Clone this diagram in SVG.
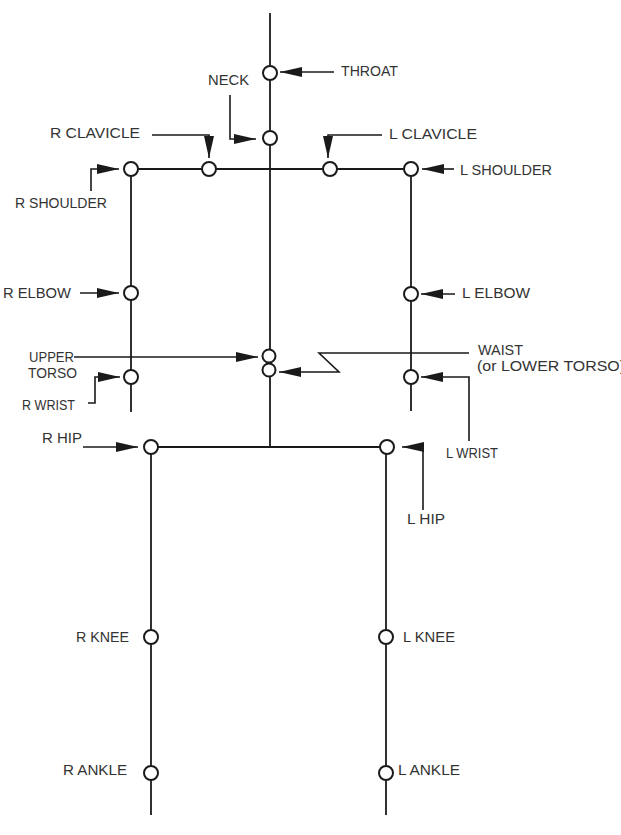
<svg xmlns="http://www.w3.org/2000/svg" width="621" height="835" viewBox="0 0 621 835">
<style>
.ln{fill:none;stroke:#1a1a1a;stroke-width:1.8}
.ar{fill:none;stroke:#1a1a1a;stroke-width:1.6;marker-end:url(#ah)}
.jt{fill:#fff;stroke:#1a1a1a;stroke-width:2}
text{font-family:"Liberation Sans",Arial,sans-serif;font-size:14px;fill:#333}
</style>
<defs>
<marker id="ah" markerUnits="userSpaceOnUse" markerWidth="22" markerHeight="10" refX="22" refY="5" orient="auto">
<path d="M0,0 L22,5 L0,10 Z" fill="#1a1a1a"/>
</marker>
</defs>
<rect width="621" height="835" fill="#fff"/>
<g id="connectors">
<path class="ln" d="M270,13 V447"/>
<path class="ln" d="M131,169 H411"/>
<path class="ln" d="M131,169 V412"/>
<path class="ln" d="M411,169 V411"/>
<path class="ln" d="M151,447 H387"/>
<path class="ln" d="M151,447 V815"/>
<path class="ln" d="M386,447 V815"/>
<path class="ar" d="M334,72 H280"/>
<path class="ar" d="M230,95 V139 H256"/>
<path class="ar" d="M152,135 H209 V158"/>
<path class="ar" d="M382,135 H328 V158"/>
<path class="ar" d="M91,191 V169 H119"/>
<path class="ar" d="M454,169 H422"/>
<path class="ar" d="M80,293 H119"/>
<path class="ar" d="M455,294 H421"/>
<path class="ar" d="M74,357 H258"/>
<path class="ar" d="M469,353 H319 L339,372 H279"/>
<path class="ar" d="M88,403 H95 V377 H120"/>
<path class="ar" d="M469,441 V377 H421"/>
<path class="ar" d="M83,447 H138"/>
<path class="ar" d="M423,510 V447 H402"/>
</g>
<g id="throat"><circle class="jt" cx="270" cy="73" r="7"/><text x="341" y="76" textLength="57" lengthAdjust="spacingAndGlyphs">THROAT</text></g>
<g id="neck"><circle class="jt" cx="270" cy="138" r="7"/><text x="208" y="85" textLength="41" lengthAdjust="spacingAndGlyphs">NECK</text></g>
<g id="r-clavicle"><circle class="jt" cx="209" cy="169" r="7"/><text x="50" y="138" textLength="90" lengthAdjust="spacingAndGlyphs">R CLAVICLE</text></g>
<g id="l-clavicle"><circle class="jt" cx="330" cy="169" r="7"/><text x="389" y="139" textLength="88" lengthAdjust="spacingAndGlyphs">L CLAVICLE</text></g>
<g id="r-shoulder"><circle class="jt" cx="131" cy="169" r="7"/><text x="15" y="208" textLength="92" lengthAdjust="spacingAndGlyphs">R SHOULDER</text></g>
<g id="l-shoulder"><circle class="jt" cx="411" cy="169" r="7"/><text x="460" y="175" textLength="92" lengthAdjust="spacingAndGlyphs">L SHOULDER</text></g>
<g id="r-elbow"><circle class="jt" cx="131" cy="293" r="7"/><text x="3" y="298" textLength="68" lengthAdjust="spacingAndGlyphs">R ELBOW</text></g>
<g id="l-elbow"><circle class="jt" cx="411" cy="294" r="7"/><text x="462" y="298" textLength="68" lengthAdjust="spacingAndGlyphs">L ELBOW</text></g>
<g id="upper-torso"><circle class="jt" cx="269" cy="356" r="6.5"/><text x="29" y="362" textLength="45" lengthAdjust="spacingAndGlyphs">UPPER</text><text x="28" y="378" textLength="49" lengthAdjust="spacingAndGlyphs">TORSO</text></g>
<g id="waist"><circle class="jt" cx="269" cy="370" r="6.5"/><text x="478" y="355" textLength="45" lengthAdjust="spacingAndGlyphs">WAIST</text><text x="477" y="371" textLength="148" lengthAdjust="spacingAndGlyphs">(or LOWER TORSO)</text></g>
<g id="r-wrist"><circle class="jt" cx="131" cy="377" r="7"/><text x="22" y="410" textLength="53" lengthAdjust="spacingAndGlyphs">R WRIST</text></g>
<g id="l-wrist"><circle class="jt" cx="411" cy="377" r="7"/><text x="446" y="458" textLength="52" lengthAdjust="spacingAndGlyphs">L WRIST</text></g>
<g id="r-hip"><circle class="jt" cx="151" cy="447" r="7"/><text x="42" y="443" textLength="40" lengthAdjust="spacingAndGlyphs">R HIP</text></g>
<g id="l-hip"><circle class="jt" cx="387" cy="447" r="7"/><text x="407" y="524" textLength="38" lengthAdjust="spacingAndGlyphs">L HIP</text></g>
<g id="r-knee"><circle class="jt" cx="151" cy="637" r="7"/><text x="76" y="642" textLength="53" lengthAdjust="spacingAndGlyphs">R KNEE</text></g>
<g id="l-knee"><circle class="jt" cx="386" cy="637" r="7"/><text x="403" y="642" textLength="52" lengthAdjust="spacingAndGlyphs">L KNEE</text></g>
<g id="r-ankle"><circle class="jt" cx="151" cy="773" r="7"/><text x="63" y="775" textLength="64" lengthAdjust="spacingAndGlyphs">R ANKLE</text></g>
<g id="l-ankle"><circle class="jt" cx="386" cy="773" r="7"/><text x="398" y="775" textLength="62" lengthAdjust="spacingAndGlyphs">L ANKLE</text></g>
</svg>
